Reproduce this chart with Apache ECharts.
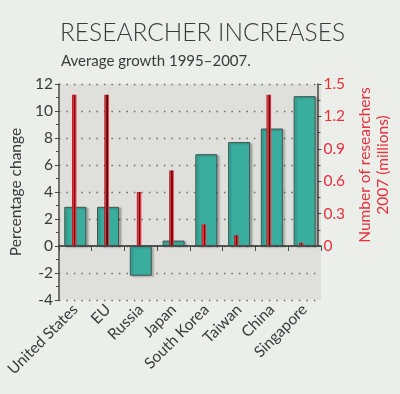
<!DOCTYPE html>
<html>
<head>
<meta charset="utf-8">
<script src="https://cdn.jsdelivr.net/npm/echarts@6/dist/echarts.min.js"></script>
<style>
html,body{margin:0;padding:0;background:#eceee9;}
#c{width:400px;height:394px;}
</style>
</head>
<body>
<div id="c"></div>
<script>
var categories = ['United States','EU','Russia','Japan','South Korea','Taiwan','China','Singapore'];
var growth = [2.9, 2.9, -2.2, 0.4, 6.8, 7.7, 8.7, 11.1];
var researchers = [1.4, 1.4, 0.5, 0.7, 0.2, 0.1, 1.4, 0.03];
var rightTicks = [0, 0.3, 0.6, 0.9, 1.2, 1.5];

var FONT = 'Lato, "Open Sans", sans-serif';
var TXT = '#3a3a3a';
var RED = '#e8303c';

var chart = echarts.init(document.getElementById('c'), null, {renderer:'canvas'});
chart.setOption({
  backgroundColor: '#eceee9',
  animation: false,
  textStyle: {fontFamily: FONT},
  title: [
    {text: 'RESEARCHER INCREASES', left: 55, top: 16,
     textStyle: {fontFamily: FONT, fontSize: 24.5, fontWeight: 300, color: TXT}},
    {text: 'Average growth 1995\u20132007.', left: 56, top: 49,
     textStyle: {fontFamily: FONT, fontSize: 15, fontWeight: 400, color: TXT}}
  ],
  grid: [
    {left: 58, right: 79, top: 84, bottom: 94, show: true,
     backgroundColor: '#dfe0dc', borderWidth: 0},
    {left: 58, right: 79, top: 84, bottom: 148, show: false}
  ],
  xAxis: [
    {type: 'category', gridIndex: 0, data: categories,
     axisLine: {lineStyle: {color: '#4a4a4a', width: 1.5}},
     axisTick: {show: true, length: 5, lineStyle: {color: '#4a4a4a'}},
     axisLabel: {rotate: 45, color: TXT, fontSize: 15.5, fontFamily: FONT, margin: 7, interval: 0}},
    {type: 'category', gridIndex: 1, data: categories, show: false}
  ],
  yAxis: [
    {type: 'value', gridIndex: 0, min: -4, max: 12, interval: 2,
     name: 'Percentage change', nameLocation: 'middle', nameGap: 27,
     nameTextStyle: {color: TXT, fontSize: 15.5, fontFamily: FONT},
     axisLine: {show: true, lineStyle: {color: '#4a4a4a', width: 1.5}},
     axisTick: {show: true, length: 4, lineStyle: {color: '#4a4a4a'}},
     minorTick: {show: true, splitNumber: 2, length: 3, lineStyle: {color: '#4a4a4a'}},
     axisLabel: {color: TXT, fontSize: 15.5, fontFamily: FONT, margin: 6},
     splitLine: {show: true, lineStyle: {color: '#6a6a6a', type: [1.5, 6], width: 1.4}}},
    {type: 'value', gridIndex: 1, position: 'right', min: 0, max: 1.5, interval: 0.3,
     name: 'Number of researchers\n2007 (millions)', nameLocation: 'middle', nameGap: 31,
     nameRotate: 90,
     nameTextStyle: {color: RED, fontSize: 15.5, fontFamily: FONT, lineHeight: 18},
     axisLine: {show: true, lineStyle: {color: '#4a4a4a', width: 1.5}},
     axisTick: {show: true, length: 4, lineStyle: {color: '#4a4a4a'}},
     minorTick: {show: true, splitNumber: 2, length: 3, lineStyle: {color: '#4a4a4a'}},
     axisLabel: {color: RED, fontSize: 15.5, fontFamily: FONT, margin: 6,
       customValues: rightTicks,
       formatter: function(v){ return v === 0 ? '0' : v.toFixed(1); }},
     splitLine: {show: false}}
  ],
  series: [
    {type: 'bar', xAxisIndex: 0, yAxisIndex: 0, data: growth, barWidth: 22,
     itemStyle: {color: '#39ae9f', borderColor: '#42544f', borderWidth: 1,
       shadowColor: 'rgba(0,0,0,0.25)', shadowBlur: 2, shadowOffsetX: 2, shadowOffsetY: 1},
     markLine: {silent: true, symbol: 'none', label: {show: false},
       lineStyle: {color: '#4a4a4a', type: 'solid', width: 1.5},
       data: [{yAxis: 0}]}},
    {type: 'bar', xAxisIndex: 1, yAxisIndex: 1, data: researchers, barWidth: 4.5,
     itemStyle: {color: new echarts.graphic.LinearGradient(0, 0, 1, 0, [
       {offset: 0, color: '#7a1010'}, {offset: 0.2, color: RED}, {offset: 0.42, color: RED},
       {offset: 0.48, color: '#5a0808'}, {offset: 0.7, color: '#5a0808'},
       {offset: 0.76, color: RED}, {offset: 1, color: RED}])}}
  ]
});
</script>
</body>
</html>
